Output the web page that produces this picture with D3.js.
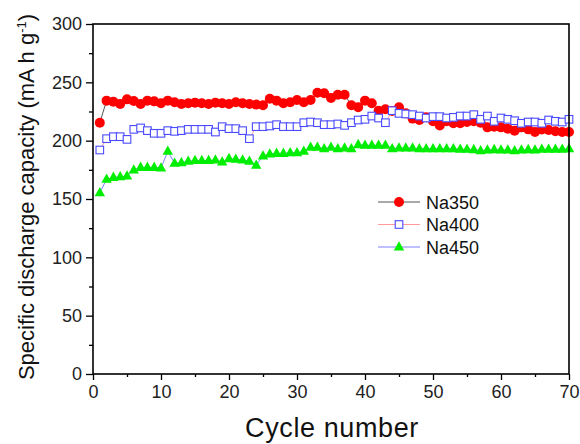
<!DOCTYPE html>
<html>
<head>
<meta charset="utf-8">
<script src="https://cdn.jsdelivr.net/npm/d3@7"></script>
<style>
  html, body { margin: 0; padding: 0; background: #fff; }
  svg { display: block; font-family: "Liberation Sans", Arial, sans-serif; }
</style>
</head>
<body>
<svg id="chart" width="580" height="444"></svg>
<script>
// cycle index 1..70
const cycles = d3.range(1, 71);

const na350 = [215.4, 234.3, 233.4, 231.4, 235.4, 234, 231.4, 234.3, 233.7, 232,
  234.3, 233, 231.4, 232, 232.6, 232, 231.4, 232.6, 232, 231.4,
  233, 232, 231.4, 230.9, 230.3, 236, 234.3, 232, 233, 234.9,
  233, 234.9, 241.1, 240.6, 236.6, 239.4, 239.4, 230.3, 228.6, 234.3,
  232, 225.7, 226.9, 225.5, 228.6, 223.4, 218.9, 217.7, 220, 216.6,
  213.1, 216.6, 214.9, 214.9, 216, 216.6, 215.4, 211.4, 212, 211.4,
  210.3, 208.6, 211.4, 209.7, 207.4, 209.5, 209.1, 208, 207.4, 207.4];

const na400 = [192, 201.7, 203.4, 203.4, 201.1, 209.7, 210.9, 208.6, 206.3, 206.3,
  208.6, 208, 208.6, 209.7, 209.7, 209.7, 209.7, 207.4, 212, 210.3,
  210.3, 208.6, 201.7, 212, 212, 212.6, 213.7, 212, 212, 212,
  215.4, 216, 215.4, 213.7, 213.7, 214.3, 213.1, 215.4, 217.7, 218.3,
  221.1, 219.4, 215.4, 225.7, 223.4, 222.9, 222.3, 221.1, 219.4, 220.6,
  220.6, 219.4, 220, 221.1, 221.1, 222.3, 218.3, 221.1, 216.6, 219.4,
  218.3, 217.1, 214.9, 216, 216, 214.9, 217.7, 216.6, 216, 218.3];

const na450 = [155.4, 166.9, 168.5, 169.1, 169.7, 174.9, 177.1, 177.1, 177.1, 176.6,
  190.9, 180.6, 181.1, 182.3, 182.9, 182.9, 182.9, 183.4, 181.7, 184.6,
  184, 183.4, 182.3, 178.9, 186.9, 188.6, 189.1, 189.1, 189.7, 189.7,
  190.9, 194.3, 194.3, 193.1, 194.3, 193.1, 193.7, 193.1, 196.6, 196,
  196, 196, 196, 193.1, 193.7, 193.7, 193.7, 193.1, 193.1, 193.1,
  193.1, 193.1, 193.1, 192.6, 192.6, 192.3, 191.4, 192, 192.3, 192,
  192, 191.4, 192, 192.3, 192, 192.6, 192.6, 192.6, 192.6, 193];

const seriesNames = ["Na350", "Na400", "Na450"];
const yTicks = [0, 50, 100, 150, 200, 250, 300];
const xTicks = [0, 10, 20, 30, 40, 50, 60, 70];

const svg = d3.select("#chart");
const margin = {top: 24, right: 11, bottom: 70, left: 93};
const width = 580, height = 444;
const innerW = width - margin.left - margin.right;
const innerH = height - margin.top - margin.bottom;

const x = d3.scaleLinear().domain([0, 70]).range([0, innerW]);
const y = d3.scaleLinear().domain([0, 300]).range([innerH, 0]);

const g = svg.append("g").attr("transform", `translate(${margin.left},${margin.top})`);

// series styles: marker colour + connecting line colour
const styles = [
  {name: seriesNames[0], values: na350, line: "#555555", shape: "circle"},
  {name: seriesNames[1], values: na400, line: "#ff9a9a", shape: "square"},
  {name: seriesNames[2], values: na450, line: "#8080ff", shape: "triangle"}
];

function drawMarker(sel, shape) {
  if (shape === "circle") {
    sel.append("circle").attr("r", 5).attr("fill", "#ff0000");
  } else if (shape === "square") {
    sel.append("rect").attr("x", -3.8).attr("y", -3.8).attr("width", 7.6).attr("height", 7.6)
      .attr("fill", "#fff").attr("stroke", "#4a4aff").attr("stroke-width", 1.1);
  } else {
    sel.append("path").attr("d", "M0,-5.8L5.2,3.5L-5.2,3.5Z").attr("fill", "#00ee00");
  }
}

const line = d3.line().x((d, i) => x(cycles[i])).y(d => y(d));

styles.forEach(s => {
  g.append("path")
    .datum(s.values)
    .attr("d", line)
    .attr("fill", "none")
    .attr("stroke", s.line)
    .attr("stroke-width", 1);
  const pts = g.append("g").selectAll("g")
    .data(s.values)
    .join("g")
    .attr("transform", (d, i) => `translate(${x(cycles[i])},${y(d)})`);
  drawMarker(pts, s.shape);
});

// axes
g.append("g")
  .call(d3.axisLeft(y).tickValues(yTicks).tickSize(7).tickPadding(4));
g.append("g")
  .call(d3.axisLeft(y).tickValues(d3.range(25, 300, 50)).tickSize(4).tickFormat(""));
g.append("g").attr("transform", `translate(0,${innerH})`)
  .call(d3.axisBottom(x).tickValues(xTicks).tickSize(6).tickPadding(5));
g.append("g").attr("transform", `translate(0,${innerH})`)
  .call(d3.axisBottom(x).tickValues(d3.range(5, 70, 10)).tickSize(3).tickFormat(""));

g.selectAll(".domain").remove();
g.selectAll(".tick line").attr("stroke", "#000").attr("stroke-width", 1.3);
g.selectAll(".tick text")
  .attr("fill", "#222")
  .style("font-size", "18px")
  .style("font-family", "Liberation Sans, Arial, sans-serif");

// frame
g.append("rect")
  .attr("width", innerW).attr("height", innerH)
  .attr("fill", "none").attr("stroke", "#000").attr("stroke-width", 1.6);

// axis titles
svg.append("text")
  .attr("x", 332)
  .attr("y", 437)
  .attr("text-anchor", "middle")
  .style("font-size", "27px")
  .style("letter-spacing", "0.6px")
  .attr("fill", "#111")
  .text("Cycle number");

const yt = svg.append("text")
  .attr("transform", "translate(34,197) rotate(-90)")
  .attr("text-anchor", "middle")
  .style("font-size", "22px")
  .attr("fill", "#111");
yt.append("tspan").text("Specific discharge capacity (mA h g");
yt.append("tspan").attr("dy", -8).style("font-size", "13px").text("-1");
yt.append("tspan").attr("dy", 8).text(")");

// legend
const legend = svg.append("g").attr("transform", "translate(378,202)");
styles.forEach((s, i) => {
  const row = legend.append("g").attr("transform", `translate(0,${i * 22.5})`);
  row.append("line").attr("x1", 0).attr("x2", 42).attr("y1", 0).attr("y2", 0)
    .attr("stroke", s.line).attr("stroke-width", 1);
  const m = row.append("g").attr("transform", "translate(21,0)");
  drawMarker(m, s.shape);
  row.append("text").attr("x", 48).attr("y", 6.5)
    .style("font-size", "18px").attr("fill", "#111").text(s.name);
});
</script>
</body>
</html>
